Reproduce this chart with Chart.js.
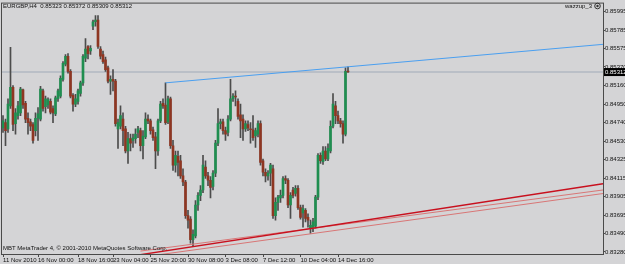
<!DOCTYPE html>
<html>
<head>
<meta charset="utf-8">
<script src="https://cdn.jsdelivr.net/npm/chart.js@4.4.1/dist/chart.umd.min.js"></script>
<style>
  html, body { margin: 0; padding: 0; background: #d4d4d6; }
  canvas { display: block; }
</style>
</head>
<body>
<canvas id="chart" width="625" height="264"></canvas>
<script>
// EURGBP H4 candles, one entry per bar (bar 0 = 11 Nov 2010)
const opens = [
  .8468,.8474,.8467,.8493,.8514,.8473,.8482,.8485,.8511,.8496,
  .8479,.8475,.8472,.8465,.8479,.8478,.8510,.8492,.8494,.8498,
  .8490,.8484,.8501,.8504,.8523,.8540,.8549,.8532,.8505,.8495,
  .8498,.8507,.8519,.8547,.8560,.8555,.8583,.8588,.8590,.8557,
  .8551,.8545,.8536,.8521,.8523,.8521,.8467,.8470,.8478,.8467,
  .8442,.8456,.8454,.8456,.8463,.8465,.8448,.8458,.8478,.8476,
  .8466,.8458,.8442,.8476,.8496,.8494,.8475,.8501,.8448,.8426,
  .8436,.8431,.8414,.8407,.8369,.8365,.8342,.8346,.8381,.8392,
  .8398,.8424,.8414,.8409,.8402,.8417,.8451,.8473,.8475,.8465,
  .8463,.8478,.8501,.8504,.8498,.8483,.8478,.8467,.8472,.8467,
  .8466,.8459,.8461,.8473,.8431,.8418,.8414,.8417,.8422,.8369,
  .8384,.8389,.8392,.8411,.8409,.8381,.8398,.8394,.8400,.8378,
  .8372,.8375,.8367,.8355,.8355,.8357,.8390,.8437,.8430,.8442,
  .8433,.8442,.8470,.8493,.8482,.8476,.8473,.8461,.85323
];
const highs = [
  .8482,.8478,.8501,.8559,.8516,.8490,.8498,.8514,.8512,.8498,
  .8485,.8478,.8474,.8485,.8491,.8515,.8512,.8504,.8502,.8501,
  .8493,.8504,.8512,.8527,.8543,.8551,.8552,.8534,.8507,.8506,
  .8512,.8521,.8551,.8569,.8561,.8561,.8590,.8595,.8595,.8560,
  .8555,.8548,.8538,.8527,.8534,.8523,.8478,.8493,.8485,.8470,
  .8463,.8461,.8461,.8467,.8470,.8468,.8465,.8485,.8483,.8478,
  .8469,.8463,.8478,.8498,.8501,.8519,.8504,.8503,.8454,.8442,
  .8442,.8437,.8422,.8409,.8375,.8368,.8353,.8386,.8395,.8403,
  .8437,.8431,.8418,.8413,.8420,.8454,.8490,.8478,.8478,.8469,
  .8482,.8523,.8507,.8510,.8501,.8495,.8483,.8476,.8476,.8474,
  .8482,.8468,.8476,.8476,.8433,.8422,.8420,.8428,.8426,.8389,
  .8392,.8398,.8413,.8414,.8411,.8395,.8401,.8403,.8403,.8381,
  .8381,.8377,.8371,.8364,.8366,.8392,.8439,.8440,.8447,.8447,
  .8450,.8476,.8507,.8498,.8487,.8479,.8476,.8536,.85372
];
const lows = [
  .8463,.8448,.8463,.8490,.8465,.8461,.8478,.8482,.8490,.8474,
  .8461,.8465,.8451,.8459,.8454,.8476,.8487,.8485,.8490,.8484,
  .8474,.8482,.8498,.8502,.8521,.8538,.8530,.8502,.8487,.8492,
  .8495,.8504,.8516,.8543,.8546,.8551,.8579,.8583,.8558,.8546,
  .8541,.8532,.8519,.8506,.8510,.8470,.8445,.8467,.8448,.8440,
  .8428,.8442,.8446,.8451,.8457,.8442,.8433,.8456,.8473,.8461,
  .8454,.8422,.8437,.8474,.8490,.8472,.8473,.8445,.8420,.8418,
  .8414,.8411,.8403,.8366,.8355,.8338,.8334,.8344,.8375,.8386,
  .8395,.8411,.8403,.8389,.8398,.8413,.8448,.8467,.8461,.8454,
  .8459,.8476,.8498,.8493,.8478,.8457,.8454,.8464,.8465,.8451,
  .8454,.8446,.8458,.8426,.8414,.8407,.8409,.8403,.8366,.8364,
  .8375,.8384,.8389,.8405,.8378,.8366,.8389,.8391,.8376,.8365,
  .8356,.8362,.8356,.8349,.8351,.8355,.8387,.8428,.8427,.8431,
  .8431,.8440,.8468,.8473,.8473,.8469,.8451,.8459,.85309
];
const closes = [
  .8476,.8465,.8495,.8514,.8472,.8485,.8493,.8512,.8494,.8478,
  .8474,.8470,.8454,.8479,.8484,.8512,.8490,.8501,.8500,.8486,
  .8485,.8502,.8510,.8524,.8541,.8549,.8532,.8504,.8495,.8501,
  .8510,.8519,.8549,.8557,.8552,.8558,.8588,.8590,.8560,.8549,
  .8543,.8534,.8521,.8523,.8521,.8473,.8474,.8482,.8465,.8442,
  .8456,.8451,.8457,.8461,.8467,.8448,.8459,.8478,.8476,.8465,
  .8457,.8442,.8476,.8495,.8493,.8474,.8501,.8448,.8426,.8437,
  .8429,.8414,.8407,.8369,.8364,.8342,.8348,.8381,.8392,.8398,
  .8426,.8414,.8409,.8401,.8417,.8451,.8473,.8475,.8465,.8461,
  .8478,.8501,.8504,.8503,.8481,.8476,.8467,.8473,.8468,.8466,
  .8457,.8465,.8473,.8429,.8418,.8414,.8417,.8426,.8369,.8384,
  .8390,.8392,.8411,.8409,.8381,.8392,.8392,.8400,.8378,.8367,
  .8377,.8366,.8364,.8358,.8362,.8390,.8437,.8431,.8442,.8433,
  .8445,.8470,.8495,.8482,.8476,.8473,.8461,.8532,.85312
];

// time axis labels (bar index -> text)
const timeTickBars = [0, 14, 30, 44, 59, 74, 89, 104, 119, 134];
const timeTickText = ['11 Nov 2010', '16 Nov 00:00', '18 Nov 16:00', '23 Nov 04:00', '25 Nov 20:00',
                      '30 Nov 08:00', '3 Dec 08:00', '7 Dec 12:00', '10 Dec 04:00', '14 Dec 16:00'];

// price axis labels
const priceTicks = [0.85995, 0.85785, 0.85575, 0.85370, 0.85160, 0.84950, 0.84740,
                    0.84530, 0.84325, 0.84115, 0.83905, 0.83695, 0.83490, 0.83280];

// drawn trend lines: [barIndex, price] end points
const blueLine = [[65, 0.8519], [240, 0.85625]];
const redLine = [[55, 0.8325], [240, 0.8405]];
const pinkLine1 = [[55, 0.8329], [240, 0.8398]];
const pinkLine2 = [[55, 0.8322], [240, 0.8394]];

const header = 'EURGBP,H4  0.85323 0.85372 0.85309 0.85312';
const indicatorName = 'wazzup_3';
const footer = 'MBT MetaTrader 4, \u00a9 2001-2010 MetaQuotes Software Corp.';

const bgColor = '#d4d4d6';
const bullColor = '#1f8e50';
const bearColor = '#8e3622';
const wickColor = '#4c4c4c';
const frameColor = '#4a4a4a';
const smallFont = '"Liberation Sans Narrow", "Liberation Sans", Arial, sans-serif';

const lastPrice = closes[closes.length - 1];
const xMin = -0.4, xMax = 240;

function toPoints(line) {
    return line.map(p => ({ x: p[0], y: p[1] }));
}

const mtOverlay = {
    id: 'mtOverlay',
    beforeDraw(chart) {
        const ctx = chart.ctx;
        ctx.save();
        ctx.fillStyle = bgColor;
        ctx.fillRect(0, 0, chart.width, chart.height);
        ctx.restore();
    },
    afterDraw(chart) {
        const ctx = chart.ctx;
        const a = chart.chartArea;
        ctx.save();
        // frame
        ctx.strokeStyle = frameColor;
        ctx.lineWidth = 1;
        ctx.strokeRect(a.left - 0.5, a.top - 0.5, a.right - a.left + 1, a.bottom - a.top + 1);

        ctx.font = '6px ' + smallFont;
        ctx.fillStyle = '#111';
        ctx.textBaseline = 'middle';
        ctx.textAlign = 'left';
        ctx.fillText(header, 3, 6.5);
        ctx.fillText(footer, 3, 248.5);
        ctx.textAlign = 'right';
        ctx.fillText(indicatorName, 592, 6.5);
        ctx.beginPath();
        ctx.arc(597.5, 6, 2.8, 0, Math.PI * 2);
        ctx.strokeStyle = '#333';
        ctx.stroke();
        ctx.beginPath();
        ctx.arc(597.5, 6, 1.2, 0, Math.PI * 2);
        ctx.fillStyle = '#333';
        ctx.fill();

        // current price box
        const y = chart.scales.y.getPixelForValue(lastPrice);
        ctx.fillStyle = '#000';
        ctx.fillRect(a.right + 1, y - 4, chart.width - a.right - 1, 8);
        ctx.fillStyle = '#fff';
        ctx.textAlign = 'left';
        ctx.fillText(lastPrice.toFixed(5), a.right + 2, y + 0.5);
        ctx.restore();
    }
};

const ctx = document.getElementById('chart').getContext('2d');

new Chart(ctx, {
    type: 'bar',
    data: {
        datasets: [
            {
                type: 'line',
                data: toPoints(blueLine),
                borderColor: '#4a9ff0',
                borderWidth: 1,
                pointRadius: 0,
                clip: 0,
                order: 0
            },
            {
                type: 'line',
                data: toPoints(redLine),
                borderColor: '#c8101e',
                borderWidth: 1.5,
                pointRadius: 0,
                clip: 0,
                order: 0
            },
            {
                type: 'line',
                data: toPoints(pinkLine1),
                borderColor: '#d87676',
                borderWidth: 1,
                pointRadius: 0,
                clip: 0,
                order: 0
            },
            {
                type: 'line',
                data: toPoints(pinkLine2),
                borderColor: '#d87676',
                borderWidth: 1,
                pointRadius: 0,
                clip: 0,
                order: 0
            },
            {
                // bodies
                data: opens.map((o, i) => ({ x: i, y: [o, closes[i]] })),
                backgroundColor: c => closes[c.dataIndex] >= opens[c.dataIndex] ? bullColor : bearColor,
                barThickness: 2,
                minBarLength: 1,
                grouped: false,
                order: 1
            },
            {
                // wicks
                data: lows.map((l, i) => ({ x: i, y: [l, highs[i]] })),
                backgroundColor: wickColor,
                barThickness: 1,
                grouped: false,
                order: 2
            },
            {
                // bid line
                type: 'line',
                data: [{ x: xMin, y: lastPrice }, { x: xMax, y: lastPrice }],
                borderColor: '#b2b9c2',
                borderWidth: 1.5,
                pointRadius: 0,
                clip: 0,
                order: 3
            }
        ]
    },
    options: {
        responsive: false,
        animation: false,
        devicePixelRatio: 1,
        layout: { padding: { left: 2, top: 2, right: 0, bottom: 0 } },
        plugins: {
            legend: { display: false },
            tooltip: { enabled: false }
        },
        scales: {
            x: {
                type: 'linear',
                min: xMin,
                max: xMax,
                offset: false,
                grid: { display: true, drawOnChartArea: false, offset: false, tickLength: 3, color: frameColor },
                border: { display: true, color: frameColor },
                afterBuildTicks: axis => {
                    axis.ticks = timeTickBars.map(v => ({ value: v }));
                },
                afterFit: axis => { axis.height = 10; },
                ticks: {
                    autoSkip: false,
                    maxRotation: 0,
                    align: 'start',
                    padding: 0,
                    color: '#111',
                    font: { family: smallFont, size: 6 },
                    callback: v => timeTickText[timeTickBars.indexOf(v)]
                }
            },
            y: {
                position: 'right',
                min: 0.83257,
                max: 0.86085,
                grid: { display: true, drawOnChartArea: false, tickLength: 2, color: frameColor },
                border: { display: true, color: frameColor },
                afterBuildTicks: axis => {
                    axis.ticks = priceTicks.map(v => ({ value: v }));
                },
                afterFit: axis => { axis.width = 22; },
                ticks: {
                    autoSkip: false,
                    padding: 0,
                    color: '#111',
                    font: { family: smallFont, size: 6 },
                    callback: v => Number(v).toFixed(5)
                }
            }
        }
    },
    plugins: [mtOverlay]
});
</script>
</body>
</html>
